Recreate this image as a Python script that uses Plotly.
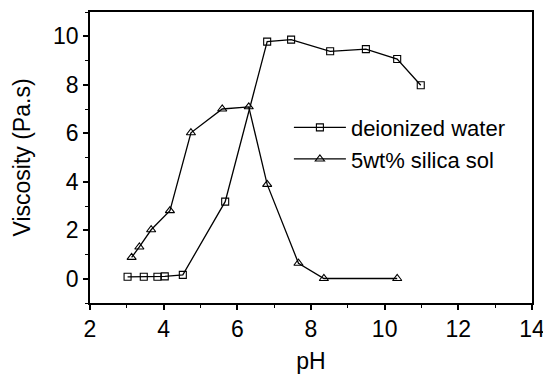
import plotly.graph_objects as go

# Viscosity vs pH for two dispersion media
ph_water = [3.02, 3.46, 3.83, 4.03, 4.52, 5.67, 6.81, 7.46, 8.52, 9.49, 10.34, 10.98]
visc_water = [0.08, 0.08, 0.08, 0.10, 0.16, 3.18, 9.78, 9.86, 9.38, 9.47, 9.06, 7.98]

ph_sol = [3.13, 3.34, 3.66, 4.17, 4.74, 5.59, 6.31, 6.81, 7.66, 8.35, 10.34]
visc_sol = [0.88, 1.31, 2.02, 2.81, 6.02, 7.00, 7.09, 3.89, 0.64, 0.01, 0.01]

FONT = "Liberation Sans, Arial, sans-serif"
FS = 23

fig = go.Figure()
fig.add_trace(go.Scatter(
    x=ph_water, y=visc_water, mode="lines+markers", name="deionized water",
    line=dict(color="black", width=1.3),
    marker=dict(symbol="square-open", size=7, color="black", line=dict(width=1.1)),
))
fig.add_trace(go.Scatter(
    x=ph_sol, y=visc_sol, mode="lines+markers", name="5wt% silica sol",
    line=dict(color="black", width=1.3),
    marker=dict(symbol="triangle-up-open", size=8, color="black", line=dict(width=1.1)),
))

axis_common = dict(
    showline=True, linecolor="black", linewidth=1.5, mirror=True,
    showgrid=False, zeroline=False, ticks="outside", ticklen=5, tickwidth=1.5,
    tickcolor="black", tickfont=dict(family=FONT, size=FS, color="black"),
    automargin=False, ticklabeloverflow="allow",
)

fig.update_xaxes(
    range=[2, 14], tickmode="array", tickvals=[2, 4, 6, 8, 10, 12, 14],
    minor=dict(tickvals=[3, 5, 7, 9, 11, 13], ticks="outside", ticklen=3,
               tickwidth=1.2, tickcolor="black"),
    title=dict(text="pH", font=dict(family=FONT, size=FS, color="black"), standoff=12),
    **axis_common,
)
fig.update_yaxes(
    range=[-1, 11], tickmode="array", tickvals=[0, 2, 4, 6, 8, 10],
    minor=dict(tickvals=[-1, 1, 3, 5, 7, 9, 11], ticks="outside", ticklen=3,
               tickwidth=1.2, tickcolor="black"),
    title=dict(text="Viscosity (Pa.s)", font=dict(family=FONT, size=FS, color="black"), standoff=16),
    **axis_common,
)

fig.update_layout(
    width=543, height=375,
    margin=dict(l=90, r=11, t=12, b=72),
    paper_bgcolor="white", plot_bgcolor="white",
    font=dict(family=FONT, color="black"),
    legend=dict(
        x=0.45, y=0.548, xanchor="left", yanchor="middle",
        bgcolor="rgba(0,0,0,0)", borderwidth=0,
        font=dict(family=FONT, size=22, color="black"),
        itemwidth=52, tracegroupgap=0,
    ),
)

fig.write_html("out.html")
